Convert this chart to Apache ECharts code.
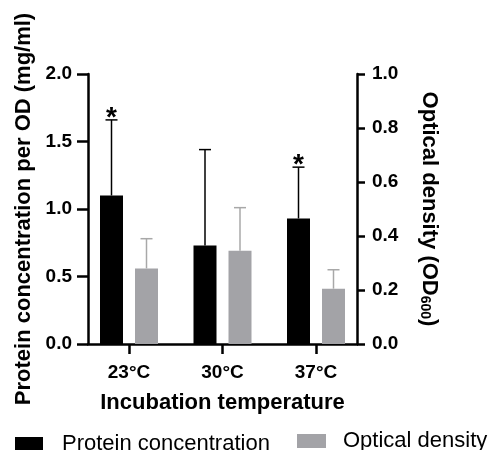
<!DOCTYPE html>
<html>
<head>
<meta charset="utf-8">
<script src="https://cdn.jsdelivr.net/npm/echarts@6/dist/echarts.min.js"></script>
<style>
	html, body { margin: 0; padding: 0; background: #fff; }
	#chart { width: 488px; height: 450px; }
</style>
</head>
<body>
<div id="chart"></div>
<script>
// data
var categories = ['23°C', '30°C', '37°C'];
var proteinMean = [1.10, 0.73, 0.93];
var proteinSD = [0.56, 0.71, 0.38];
var proteinSig = ['*', '', '*'];
var odMean = [0.28, 0.345, 0.205];
var odSD = [0.11, 0.16, 0.07];

var FONT = '"Liberation Sans", Arial, Helvetica, sans-serif';
var BAR_W = 23, BAR_GAP = 12;
var AXIS_W = 2.5;

var chart = echarts.init(document.getElementById('chart'));

function errData(mean, sd, sig) {
	return mean.map(function(m, i) {
		return [i, m, m + sd[i], sig ? sig[i] : ''];
	});
}

// upper error bar (+ optional asterisk), shifted to its bar inside the group
function errRender(shift, color) {
	return function(params, api) {
		var p0 = api.coord([api.value(0), api.value(1)]);
		var p1 = api.coord([api.value(0), api.value(2)]);
		var x = p0[0] + shift;
		var children = [{
			type: 'line',
			shape: { x1: x, y1: p0[1], x2: x, y2: p1[1] },
			style: { stroke: color, lineWidth: 1.5 }
		}, {
			type: 'line',
			shape: { x1: x - 6, y1: p1[1], x2: x + 6, y2: p1[1] },
			style: { stroke: color, lineWidth: 1.5 }
		}];
		var mark = api.value(3);
		if(mark) {
			children.push({
				type: 'text',
				style: {
					text: mark,
					x: x,
					y: p1[1] - 2,
					align: 'center',
					verticalAlign: 'middle',
					font: 'bold 28px ' + FONT,
					fill: '#000'
				}
			});
		}
		return { type: 'group', children: children };
	};
}

var shift = (BAR_W + BAR_GAP) / 2;

var option = {
	backgroundColor: '#fff',
	animation: false,
	textStyle: { fontFamily: FONT, color: '#000' },
	grid: [
		// bars grid: a bit wider so the categories are spaced like the figure
		{ left: 82.25, right: 125.25, top: 74, bottom: 106 },
		// axes frame
		{ left: 88, right: 131, top: 74, bottom: 106 }
	],
	legend: [{
		data: ['Protein concentration'],
		left: 15,
		top: 433,
		padding: 0,
		itemWidth: 28,
		itemHeight: 14,
		icon: 'rect',
		textStyle: { fontSize: 22, color: '#000', fontFamily: FONT, padding: [0, 0, 7, 14] }
	}, {
		data: ['Optical density'],
		left: 297,
		top: 430,
		padding: 0,
		itemWidth: 29,
		itemHeight: 14,
		icon: 'rect',
		textStyle: { fontSize: 22, color: '#000', fontFamily: FONT, padding: [0, 0, 0, 12] }
	}],
	xAxis: [{
		type: 'category',
		gridIndex: 0,
		data: categories,
		axisLine: { show: false },
		axisTick: { show: true, alignWithLabel: true, length: 10, lineStyle: { color: '#000', width: AXIS_W } },
		axisLabel: { color: '#000', fontSize: 19, fontWeight: 'bold', margin: 19, fontFamily: FONT },
		splitLine: { show: false },
		name: 'Incubation temperature',
		nameLocation: 'middle',
		nameGap: 48,
		nameTextStyle: { fontSize: 22, fontWeight: 'bold', color: '#000', fontFamily: FONT }
	}, {
		type: 'value',
		gridIndex: 1,
		min: 0,
		max: 1,
		axisLine: { show: true, lineStyle: { color: '#000', width: AXIS_W } },
		axisTick: { show: false },
		axisLabel: { show: false },
		splitLine: { show: false }
	}],
	yAxis: [{
		type: 'value', gridIndex: 0, min: 0, max: 2, show: false
	}, {
		type: 'value', gridIndex: 0, min: 0, max: 1, show: false
	}, {
		type: 'value',
		gridIndex: 1,
		position: 'left',
		min: 0,
		max: 2,
		interval: 0.5,
		axisLine: { show: true, onZero: false, lineStyle: { color: '#000', width: AXIS_W } },
		axisTick: { show: true, length: 11, lineStyle: { color: '#000', width: AXIS_W } },
		axisLabel: {
			color: '#000', fontSize: 19, fontWeight: 'bold', margin: 16, fontFamily: FONT,
			formatter: function(v) { return v.toFixed(1); }
		},
		splitLine: { show: false },
		name: 'Protein concentration per OD (mg/ml)',
		nameLocation: 'middle',
		nameRotate: 90,
		nameGap: 51,
		nameTextStyle: { fontSize: 22, fontWeight: 'bold', color: '#000', fontFamily: FONT }
	}, {
		type: 'value',
		gridIndex: 1,
		position: 'right',
		min: 0,
		max: 1,
		interval: 0.2,
		axisLine: { show: true, onZero: false, lineStyle: { color: '#000', width: AXIS_W } },
		axisTick: { show: true, length: 8, lineStyle: { color: '#000', width: AXIS_W } },
		axisLabel: {
			color: '#000', fontSize: 19, fontWeight: 'bold', margin: 15, fontFamily: FONT,
			formatter: function(v) { return v.toFixed(1); }
		},
		splitLine: { show: false },
		name: 'Optical density (OD{sub|600})',
		nameLocation: 'middle',
		nameRotate: -90,
		nameGap: 61,
		nameTextStyle: {
			fontSize: 22, fontWeight: 'bold', color: '#000', fontFamily: FONT,
			rich: {
				sub: { fontSize: 14, fontWeight: 'bold', fontFamily: FONT, color: '#000', padding: [8, 0, 0, 0] }
			}
		}
	}],
	series: [{
		name: 'Protein concentration',
		type: 'bar',
		xAxisIndex: 0,
		yAxisIndex: 0,
		barWidth: BAR_W,
		barGap: (BAR_GAP / BAR_W * 100) + '%',
		itemStyle: { color: '#000' },
		data: proteinMean
	}, {
		name: 'Optical density',
		type: 'bar',
		xAxisIndex: 0,
		yAxisIndex: 1,
		barWidth: BAR_W,
		itemStyle: { color: '#a3a3a7' },
		data: odMean
	}, {
		name: 'protein error',
		type: 'custom',
		xAxisIndex: 0,
		yAxisIndex: 0,
		renderItem: errRender(-shift, '#000'),
		data: errData(proteinMean, proteinSD, proteinSig)
	}, {
		name: 'od error',
		type: 'custom',
		xAxisIndex: 0,
		yAxisIndex: 1,
		renderItem: errRender(shift, '#a8a8a8'),
		data: errData(odMean, odSD)
	}]
};

chart.setOption(option);
</script>
</body>
</html>
